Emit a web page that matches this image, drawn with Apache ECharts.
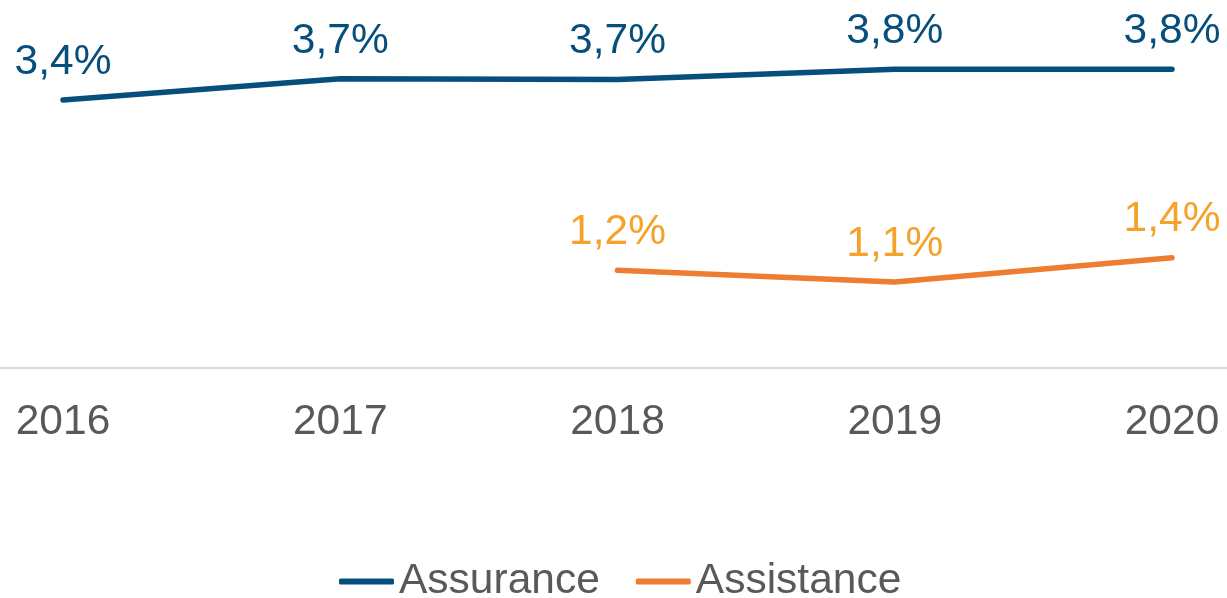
<!DOCTYPE html>
<html>
<head>
<meta charset="utf-8">
<script src="https://cdn.jsdelivr.net/npm/echarts@6/dist/echarts.min.js"></script>
<style>
  html, body { margin: 0; padding: 0; background: #fff; }
  #chart { width: 1227px; height: 598px; }
</style>
</head>
<body>
<div id="chart"></div>
<script>
// données
var years = ['2016', '2017', '2018', '2019', '2020'];
var assurance = [3.40, 3.67, 3.66, 3.79, 3.79];
var assistance = [null, null, 1.24, 1.09, 1.40];
var seriesNames = ['Assurance', 'Assistance'];

var blue = '#064e7c';
var orange = '#ed7d31';
var orangeText = '#f6a12a';
var grey = '#595959';
var font = 'Liberation Sans, Arial, sans-serif';
var fs = 42.5;

function pct(p) {
  if (p.value == null) return '';
  return p.value.toFixed(1).replace('.', ',') + '%';
}

var myChart = echarts.init(document.getElementById('chart'));
var option = {
  animation: false,
  grid: [
    { left: 63, right: 55, top: 13.4, bottom: 230 },
    // grille pleine largeur juste pour la ligne d'axe
    { left: 0, right: 0, top: 13.4, bottom: 230 }
  ],
  xAxis: [
    {
      type: 'category',
      data: years,
      boundaryGap: false,
      axisLine: { show: false },
      axisTick: { show: false },
      axisLabel: { color: grey, fontSize: fs, fontFamily: font, margin: 33 }
    },
    {
      type: 'category',
      gridIndex: 1,
      data: years,
      axisLine: { show: true, lineStyle: { color: '#d9d9d9', width: 2 } },
      axisTick: { show: false },
      axisLabel: { show: false }
    }
  ],
  yAxis: [
    { type: 'value', min: 0, max: 4.5, show: false, splitLine: { show: false } },
    { type: 'value', gridIndex: 1, min: 0, max: 4.5, show: false, splitLine: { show: false } }
  ],
  legend: {
    bottom: -10,
    left: 334,
    icon: 'roundRect',
    itemWidth: 55,
    itemHeight: 6,
    itemGap: 36,
    textStyle: { color: grey, fontSize: fs, fontFamily: font },
    data: seriesNames
  },
  series: [
    {
      name: seriesNames[0],
      type: 'line',
      data: assurance,
      symbol: 'circle',
      symbolSize: 1,
      lineStyle: { color: blue, width: 5.5, cap: 'round' },
      itemStyle: { color: blue },
      label: {
        show: true, position: 'top', distance: 16,
        color: blue, fontSize: fs, fontFamily: font, formatter: pct
      }
    },
    {
      name: seriesNames[1],
      type: 'line',
      data: assistance,
      symbol: 'circle',
      symbolSize: 1,
      lineStyle: { color: orange, width: 5.5, cap: 'round' },
      itemStyle: { color: orange },
      label: {
        show: true, position: 'top', distance: 16,
        color: orangeText, fontSize: fs, fontFamily: font, formatter: pct
      }
    }
  ]
};
myChart.setOption(option);
</script>
</body>
</html>
